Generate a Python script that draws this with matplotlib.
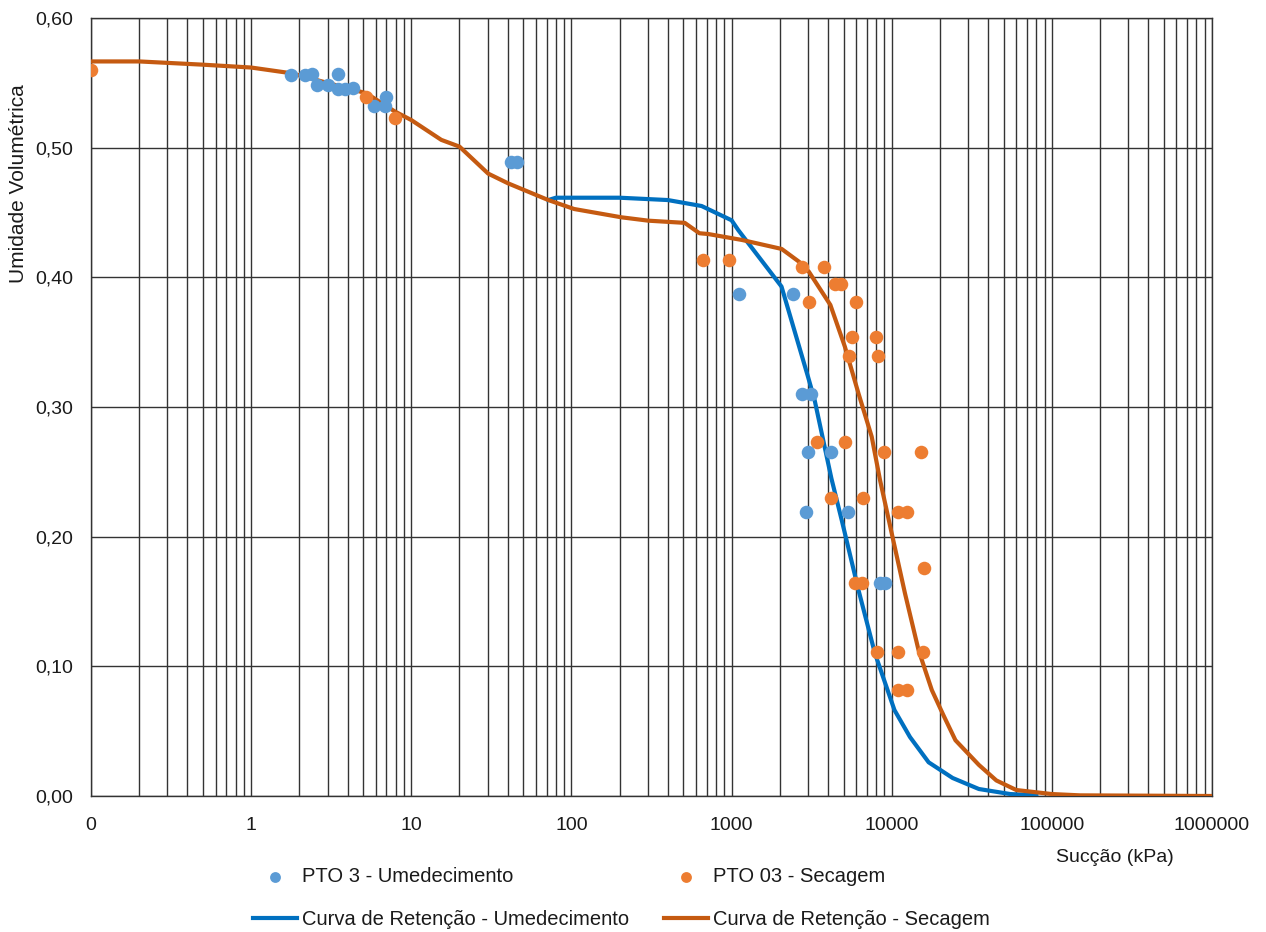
import numpy as np
import matplotlib
matplotlib.use("Agg")
from matplotlib import pyplot as plt
from matplotlib.ticker import FixedLocator, FuncFormatter, LogLocator, NullFormatter

plt.rcParams['font.family'] = ['Liberation Sans', 'DejaVu Sans']

# pontos medidos - umedecimento
umed_x = [1.78, 2.17, 2.41, 2.56, 3.02, 3.48, 3.48, 3.83, 4.32, 5.84, 6.97, 6.87,
          42.2, 45.6, 1117, 2404, 2738, 3131, 3013, 4181, 2917, 5357, 8452, 9083]
umed_y = [0.556, 0.556, 0.557, 0.548, 0.548, 0.557, 0.545, 0.545, 0.546, 0.532, 0.539, 0.532,
          0.489, 0.489, 0.387, 0.387, 0.310, 0.310, 0.265, 0.265, 0.219, 0.219, 0.164, 0.164]

# pontos medidos - secagem
sec_x = [0.1, 5.23, 7.87, 659, 962, 2738, 3777, 4424, 4798, 3043, 5957, 5678, 8017,
         5410, 8255, 3398, 5105, 8955, 15250, 4160, 6650, 11010, 12530, 15930,
         5900, 6494, 8058, 10900, 15780, 11010, 12440]
sec_y = [0.560, 0.539, 0.523, 0.413, 0.413, 0.408, 0.408, 0.395, 0.395, 0.381, 0.381, 0.354, 0.354,
         0.339, 0.339, 0.273, 0.273, 0.265, 0.265, 0.230, 0.230, 0.219, 0.219, 0.176,
         0.164, 0.164, 0.111, 0.111, 0.111, 0.082, 0.082]

# curva de retenção - secagem
curva_sec_x = [0.1, 0.2, 0.5, 1, 1.78, 5.23, 7.87, 10, 15.4, 20, 30.2, 40.2, 71.7, 104, 205,
               302, 510, 630, 715, 1163, 2054, 2640, 3040, 4140, 5100, 6200, 7500, 8450,
               10000, 12100, 14700, 17800, 21000, 25000, 35000, 45000, 60000, 100000,
               150000, 1000000]
curva_sec_y = [0.5665, 0.5665, 0.564, 0.5618, 0.5574, 0.542, 0.528, 0.5213, 0.506, 0.5008, 0.480,
               0.4725, 0.4596, 0.4527, 0.4463, 0.4437, 0.442, 0.434, 0.4334, 0.4288, 0.4219,
               0.412, 0.4043, 0.3787, 0.3465, 0.3105, 0.2771, 0.2437, 0.2026, 0.1563, 0.1126,
               0.0817, 0.0625, 0.043, 0.024, 0.012, 0.0046, 0.0015, 0.0005, 0.0]

# curva de retenção - umedecimento
curva_umed_x = [71.7, 80, 100, 200, 400, 650, 1000, 1100, 2050, 3000, 3300, 4200, 4870, 6200,
                7850, 10400, 13000, 17000, 24000, 35000, 55000, 80000]
curva_umed_y = [0.4596, 0.4614, 0.4614, 0.4614, 0.4596, 0.455, 0.444, 0.4365, 0.3929, 0.3234,
                0.3054, 0.245, 0.2129, 0.1589, 0.1101, 0.0663, 0.0455, 0.026, 0.0139, 0.0054,
                0.0015, 0.0005]

x_ticks = [0.1, 1, 10, 100, 1000, 10000, 100000, 1000000]
x_labels = ['0', '1', '10', '100', '1000', '10000', '100000', '1000000']
y_ticks = [0.0, 0.1, 0.2, 0.3, 0.4, 0.5, 0.6]

fig = plt.figure(figsize=(12.66, 9.32), dpi=100)
ax = fig.add_axes([91 / 1266, 136 / 932, (1212 - 91) / 1266, (796 - 18) / 932])

grid_c = '#333333'
txt_c = '#1a1a1a'
fs = 14

ax.plot(curva_umed_x, curva_umed_y, color='#0070C0', lw=3, zorder=3,
        label='Curva de Retenção - Umedecimento')
ax.plot(curva_sec_x, curva_sec_y, color='#C55A11', lw=3, zorder=3,
        label='Curva de Retenção - Secagem')
ax.scatter(umed_x, umed_y, s=95, color='#5B9BD5', zorder=4, linewidths=0,
           label='PTO 3 - Umedecimento')
ax.scatter(sec_x, sec_y, s=95, color='#ED7D31', zorder=4, linewidths=0,
           label='PTO 03 - Secagem')

ax.set_xscale('log')
ax.set_xlim(0.1, 1000000)
ax.set_ylim(0, 0.6)
ax.xaxis.set_major_locator(FixedLocator(x_ticks))
ax.set_xticklabels(x_labels)
ax.xaxis.set_minor_locator(LogLocator(base=10, subs=np.arange(2, 10), numticks=50))
ax.xaxis.set_minor_formatter(NullFormatter())
ax.set_yticks(y_ticks)
ax.yaxis.set_major_formatter(FuncFormatter(lambda v, p: f'{v:.2f}'.replace('.', ',')))

ax.grid(True, which='major', axis='both', color=grid_c, lw=1.0)
ax.grid(True, which='minor', axis='x', color=grid_c, lw=1.0)
ax.set_axisbelow(True)
for s in ax.spines.values():
    s.set_color(grid_c)
    s.set_linewidth(1.0)

ax.tick_params(axis='both', which='both', length=0, labelsize=fs, colors=txt_c)
ax.tick_params(axis='x', pad=15)
ax.tick_params(axis='y', pad=13)

ax.set_ylabel('Umidade Volumétrica', fontsize=15, color=txt_c)
ax.yaxis.set_label_coords(-0.056, 0.787)
fig.text(1115 / 1266, 1 - 857 / 932, 'Sucção (kPa)', fontsize=fs, color=txt_c,
         ha='center', va='center')

h, l = ax.get_legend_handles_labels()
order = [2, 0, 3, 1]
fig.legend([h[i] for i in order], [l[i] for i in order], ncol=2, frameon=False,
           loc='center', bbox_to_anchor=(0.491, 1 - 898 / 932), fontsize=14.5,
           labelcolor=txt_c, handlelength=2.2, handletextpad=0.25,
           columnspacing=1.7, labelspacing=1.2, markerscale=0.8)

fig.savefig('out.png', dpi=100)
